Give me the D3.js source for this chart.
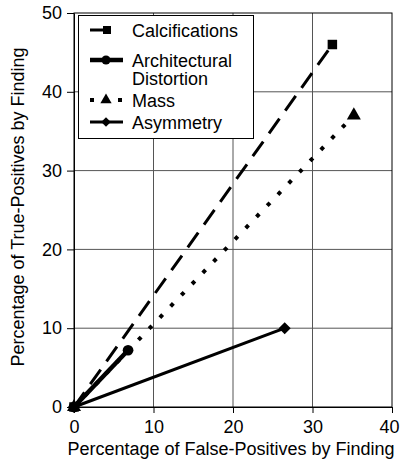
<!DOCTYPE html>
<html>
<head>
<meta charset="utf-8">
<script src="https://cdn.jsdelivr.net/npm/d3@7"></script>
<style>
  body { margin: 0; background: #fff; }
  svg { display: block; font-family: "Liberation Sans", Arial, sans-serif; }
</style>
</head>
<body>
<div id="chart"></div>
<script>
// ---- data ----
const seriesNames = ["Calcifications", "Architectural Distortion", "Mass", "Asymmetry"];
const legendLabels = [["Calcifications"], ["Architectural", "Distortion"], ["Mass"], ["Asymmetry"]];
const falsePositives = [[0, 32.5], [0, 6.8], [0, 35.2], [0, 26.5]];
const truePositives = [[0, 46], [0, 7.2], [0, 37], [0, 10]];
const xTicks = [0, 10, 20, 30, 40];
const yTicks = [0, 10, 20, 30, 40, 50];

// ---- canvas ----
const width = 401, height = 460;
const margin = { top: 13, right: 9, bottom: 53, left: 74 };

const svg = d3.select("#chart").append("svg")
  .attr("width", width)
  .attr("height", height);

const x = d3.scaleLinear().domain([0, 40]).range([margin.left, width - margin.right]);
const y = d3.scaleLinear().domain([0, 50]).range([height - margin.bottom, margin.top]);

// style per series (same order as seriesNames)
const styles = [
  { dash: "18,10", width: 3, symbol: d3.symbolSquare, size: 90, legendSize: 64, rotate: 0 },
  { dash: null, width: 4.5, symbol: d3.symbolCircle, size: 90, legendSize: 64, rotate: 0 },
  { dash: "4,11.5", width: 4, symbol: d3.symbolTriangle, size: 85, legendSize: 55, rotate: 0 },
  { dash: null, width: 3, symbol: d3.symbolSquare, size: 72, legendSize: 45, rotate: 45 }
];

// gridlines
svg.append("g")
  .selectAll("line")
  .data(xTicks.slice(1, -1))
  .join("line")
  .attr("x1", d => x(d)).attr("x2", d => x(d))
  .attr("y1", y(0)).attr("y2", y(50))
  .attr("stroke", "#555").attr("stroke-width", 1);

svg.append("g")
  .selectAll("line")
  .data(yTicks.slice(1, -1))
  .join("line")
  .attr("x1", x(0)).attr("x2", x(40))
  .attr("y1", d => y(d)).attr("y2", d => y(d))
  .attr("stroke", "#555").attr("stroke-width", 1);

// plot frame
svg.append("rect")
  .attr("x", x(0)).attr("y", y(50))
  .attr("width", x(40) - x(0)).attr("height", y(0) - y(50))
  .attr("fill", "none").attr("stroke", "#000").attr("stroke-width", 1);

// axes
const xAxis = svg.append("g")
  .attr("transform", `translate(0,${y(0)})`)
  .call(d3.axisBottom(x).tickValues(xTicks).tickSize(6).tickPadding(7).tickSizeOuter(0));

const yAxis = svg.append("g")
  .attr("transform", `translate(${x(0)},0)`)
  .call(d3.axisLeft(y).tickValues(yTicks).tickSize(7).tickPadding(5).tickSizeOuter(0));

[xAxis, yAxis].forEach(g => {
  g.select(".domain").attr("stroke", "#000");
  g.selectAll(".tick line").attr("stroke", "#000");
  g.selectAll(".tick text")
    .attr("fill", "#000")
    .style("font-size", "18px")
    .style("font-family", "'Liberation Sans', Arial, sans-serif");
});

// last x label pulled in so it stays inside the page
xAxis.selectAll(".tick text").filter(d => d === 40).attr("dx", -3);

// axis titles
svg.append("text")
  .attr("x", (x(0) + x(40)) / 2 - 2)
  .attr("y", 455)
  .attr("text-anchor", "middle")
  .style("font-size", "18px")
  .text("Percentage of False-Positives by Finding");

svg.append("text")
  .attr("transform", `translate(24,${(y(0) + y(50)) / 2 - 3}) rotate(-90)`)
  .attr("text-anchor", "middle")
  .style("font-size", "18px")
  .text("Percentage of True-Positives by Finding");

// series
const series = seriesNames.map((name, i) => ({
  name,
  style: styles[i],
  points: falsePositives[i].map((fp, j) => ({ fp, tp: truePositives[i][j] }))
}));

const line = d3.line().x(d => x(d.fp)).y(d => y(d.tp));

// draw back to front so the calcification square sits on top at the origin
const drawOrder = [3, 2, 1, 0];

drawOrder.forEach(i => {
  const s = series[i];
  svg.append("path")
    .datum(s.points)
    .attr("d", line)
    .attr("fill", "none")
    .attr("stroke", "#000")
    .attr("stroke-width", s.style.width)
    .attr("stroke-dasharray", s.style.dash)
    .attr("stroke-linecap", "butt");
});

drawOrder.forEach(i => {
  const s = series[i];
  svg.append("g")
    .selectAll("path")
    .data(s.points)
    .join("path")
    .attr("d", d3.symbol().type(s.style.symbol).size(s.style.size))
    .attr("transform", d => `translate(${x(d.fp)},${y(d.tp)}) rotate(${s.style.rotate})`)
    .attr("fill", "#000");
});

// legend
const legend = svg.append("g");
legend.append("rect")
  .attr("x", 78.5).attr("y", 15.5)
  .attr("width", 175).attr("height", 123)
  .attr("fill", "#fff").attr("stroke", "#000").attr("stroke-width", 1);

const legendRows = [30, 60, 100, 122];

series.forEach((s, i) => {
  const ly = legendRows[i];
  const g = legend.append("g").attr("transform", `translate(0,${ly})`);
  g.append("line")
    .attr("x1", 90).attr("x2", i === 0 ? 106 : 123)
    .attr("stroke", "#000")
    .attr("stroke-width", s.style.width)
    .attr("stroke-dasharray", i === 2 ? "4,10" : null);
  g.append("path")
    .attr("d", d3.symbol().type(s.style.symbol).size(s.style.legendSize))
    .attr("transform", `translate(${i === 0 ? 107 : 106},0) rotate(${s.style.rotate})`)
    .attr("fill", "#000");
  const t = g.append("text")
    .attr("x", 132)
    .attr("y", 7)
    .style("font-size", "18px");
  legendLabels[i].forEach((lbl, k) => {
    t.append("tspan").attr("x", 132).attr("dy", k === 0 ? 0 : 18).text(lbl);
  });
});
</script>
</body>
</html>
